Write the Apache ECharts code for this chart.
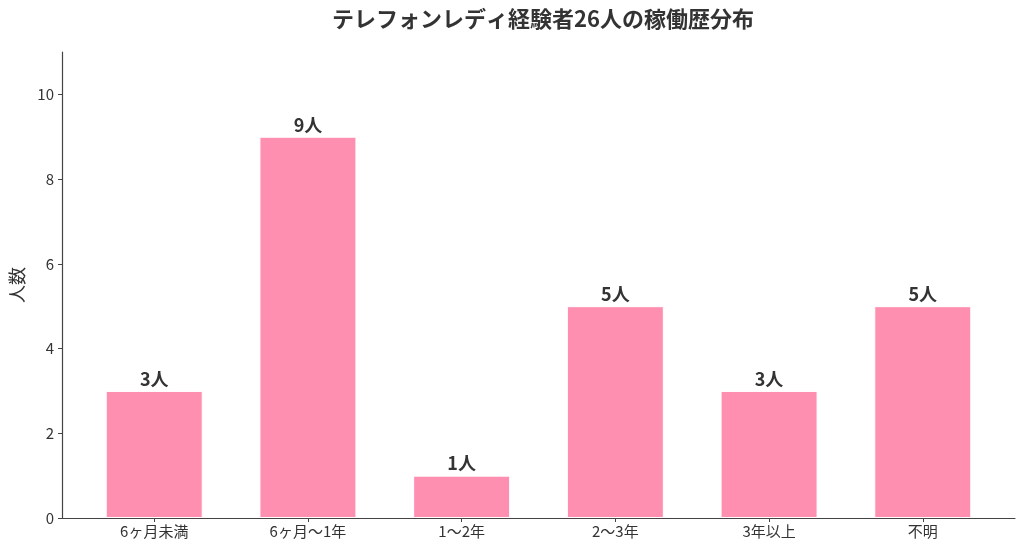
<!DOCTYPE html>
<html>
<head>
<meta charset="utf-8">
<script src="https://cdn.jsdelivr.net/npm/echarts@6/dist/echarts.min.js"></script>
<style>
  html, body { margin: 0; padding: 0; background: #fff; }
  #main { width: 1024px; height: 554px; }
</style>
</head>
<body>
<div id="main"></div>
<script>
var categories = ['6ヶ月未満', '6ヶ月〜1年', '1〜2年', '2〜3年', '3年以上', '不明'];
var counts = [3, 9, 1, 5, 3, 5];
var yTicks = [0, 2, 4, 6, 8, 10];
var xPositions = [0, 1, 2, 3, 4, 5];

var font = '"Noto Sans CJK JP", "Noto Sans", sans-serif';
var chart = echarts.init(document.getElementById('main'), null, { renderer: 'canvas' });

var option = {
  backgroundColor: '#ffffff',
  animation: false,
  title: {
    text: 'テレフォンレディ経験者26人の稼働歴分布',
    left: 538,
    textAlign: 'center',
    top: 3,
    textStyle: { fontFamily: font, fontSize: 22, fontWeight: 'bold', color: '#333333' }
  },
  grid: { left: 60, right: 9, top: 52, bottom: 36, containLabel: false },
  xAxis: {
    type: 'value',
    min: -0.6,
    max: 5.6,
    splitLine: { show: false },
    axisLine: { show: true, onZero: false, lineStyle: { color: '#444444', width: 1.2 } },
    axisTick: { show: true, length: 4, customValues: xPositions, lineStyle: { color: '#444444' } },
    axisLabel: {
      customValues: xPositions,
      formatter: function (v) { return categories[Math.round(v)]; },
      fontFamily: font, fontSize: 15, color: '#333333', margin: 6
    }
  },
  yAxis: {
    type: 'value',
    min: 0,
    max: 11,
    interval: 2,
    name: '人数',
    nameLocation: 'middle',
    nameGap: 36,
    nameTextStyle: { fontFamily: font, fontSize: 18, color: '#333333' },
    splitLine: { show: false },
    axisLine: { show: true, onZero: false, lineStyle: { color: '#444444', width: 1.2 } },
    axisTick: { show: true, length: 4, customValues: yTicks, lineStyle: { color: '#444444' } },
    axisLabel: {
      customValues: yTicks,
      fontFamily: font, fontSize: 15, color: '#333333', margin: 8
    }
  },
  series: [{
    type: 'bar',
    barWidth: 97,
    data: counts.map(function (v, i) { return [i, v]; }),
    itemStyle: { color: '#FF8FB1', borderColor: '#ffffff', borderWidth: 1 },
    label: {
      show: true,
      position: 'top',
      distance: 3,
      formatter: function (p) { return p.value[1] + '人'; },
      fontFamily: font, fontSize: 18, fontWeight: 'bold', color: '#333333'
    }
  }]
};

chart.setOption(option);
</script>
</body>
</html>
